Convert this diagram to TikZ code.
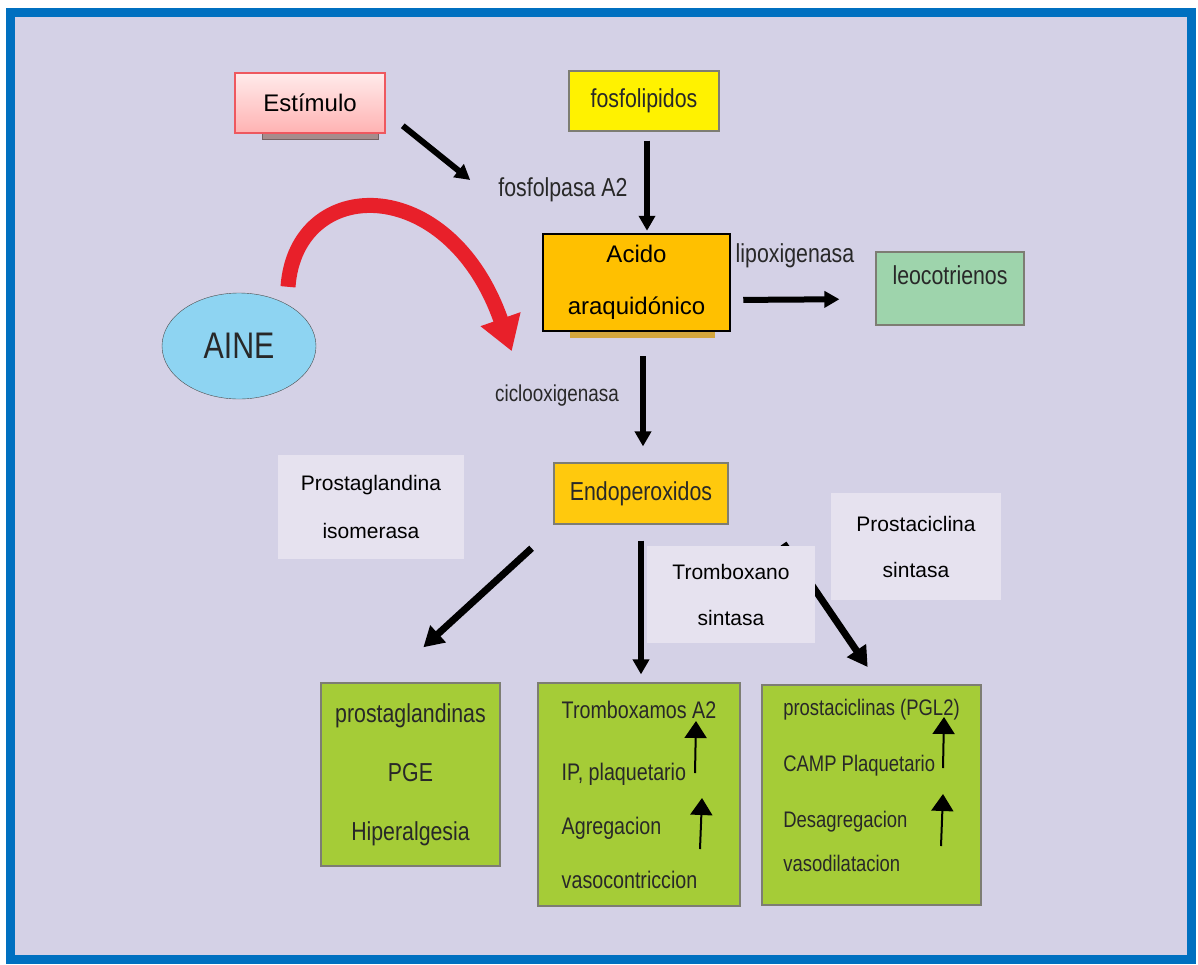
\documentclass[tikz,border=0pt]{standalone}
\usepackage{fontspec}
\setmainfont{Liberation Sans}
\newfontfamily\estrecha[FakeStretch=0.82]{Liberation Sans}
\usetikzlibrary{shapes.geometric,arrows.meta}

\definecolor{fondo}{RGB}{212,209,230}
\definecolor{marco}{RGB}{0,112,192}
\definecolor{etiq}{RGB}{230,226,239}
\definecolor{verde}{RGB}{165,204,55}
\definecolor{verdeleo}{RGB}{158,212,172}
\definecolor{amarillo}{RGB}{255,242,0}
\definecolor{naranja}{RGB}{255,192,0}
\definecolor{endoc}{RGB}{255,201,13}
\definecolor{celeste}{RGB}{142,212,242}
\definecolor{rojo}{RGB}{232,32,42}
\definecolor{gristxt}{RGB}{40,40,40}
\definecolor{borde}{RGB}{125,125,115}
\definecolor{sombra}{RGB}{165,140,140}
\definecolor{sombraac}{RGB}{210,165,60}

\tikzset{
    caja/.style={draw=borde, line width=1.2pt, inner sep=0pt},
    enzima/.style={fill=etiq, inner sep=0pt, align=center},
    verdecaja/.style={caja, fill=verde, text=gristxt, inner sep=0pt},
    etq/.style={inner sep=0pt, text=gristxt},
    flecha/.style={line width=6pt, -{Triangle[width=16pt,length=15pt]}},
    flechag/.style={line width=7pt, -{Triangle[width=22pt,length=20pt]}},
    sube/.style={line width=2pt, -{Triangle[width=22pt,length=17pt]}},
}

\begin{document}
\begin{tikzpicture}[x=1pt, y=-1pt]
    \fill[white] (0,0) rectangle (1198,964);
    \useasboundingbox (0,0) rectangle (1198,964);
    \draw[marco, line width=9pt, fill=fondo] (10.5,12.5) rectangle (1191.5,959.5);

    \node[fill=sombra, draw=sombra!70!black, minimum width=116pt, minimum height=67pt] (estsombra) at (320,105.5) {};
    \node[draw=rojo!75, line width=1.5pt, top color=red!8, bottom color=red!30, minimum width=150pt, minimum height=60pt,
        font=\fontsize{24}{28}\selectfont] (estimulo) at (310,103) {Estímulo};
    \node[caja, fill=amarillo, minimum width=150pt, minimum height=60pt, text=gristxt,
        font=\estrecha\fontsize{26}{30}\selectfont] (fosfo) at (644,101) {fosfolipidos};
    \node[etq, font=\estrecha\fontsize{26}{30}\selectfont] (fla2) at (563,190) {fosfolpasa A2};

    \node[fill=sombraac, minimum width=145pt, minimum height=98pt] (acsombra) at (642.5,289) {};
    \node[fill=naranja, draw=black, line width=2.5pt, minimum width=187pt, minimum height=97pt, align=center,
        font=\fontsize{24}{52}\selectfont] (acido) at (636.5,282.5) {Acido\\araquidónico};
    \node[etq, font=\estrecha\fontsize{26}{30}\selectfont] (lipo) at (795,256) {lipoxigenasa};
    \node[caja, fill=verdeleo, minimum width=148pt, minimum height=73pt, text=gristxt, text height=19pt, text depth=27pt,
        font=\estrecha\fontsize{26}{30}\selectfont] (leo) at (950,288.5) {leocotrienos};

    \node[ellipse, draw=black!70, fill=celeste, minimum width=154pt, minimum height=106pt, inner sep=0pt, text=gristxt,
        font=\estrecha\fontsize{37}{40}\selectfont] (aine) at (239,346) {AINE};
    \node[etq, font=\estrecha\fontsize{23}{28}\selectfont] (cox) at (557,396) {ciclooxigenasa};

    \node[caja, fill=endoc, minimum width=174pt, minimum height=61pt, text=gristxt,
        font=\estrecha\fontsize{26}{30}\selectfont] (endo) at (641,493.5) {Endoperoxidos};

    \node[enzima, minimum width=186pt, minimum height=104pt, font=\fontsize{21}{48}\selectfont] (pgis) at (371,507) {Prostaglandina\\isomerasa};
    \node[enzima, minimum width=170pt, minimum height=107pt, font=\fontsize{21}{46}\selectfont] (pcs) at (916,546.5) {Prostaciclina\\sintasa};

    \node[verdecaja, minimum width=179pt, minimum height=183pt, align=center,
        font=\estrecha\fontsize{26}{59}\selectfont] (pg) at (410.5,774.5) {prostaglandinas\\PGE\\Hiperalgesia};
    \node[verdecaja, minimum width=202pt, minimum height=223pt, align=left, text depth=-6pt,
        font=\estrecha\fontsize{24}{54}\selectfont] (tx) at (639,794.5) {Tromboxamos A2\\[8pt]IP, plaquetario\\Agregacion\\vasocontriccion};
    \node[verdecaja, minimum width=219pt, minimum height=220pt, align=left, text depth=20pt,
        font=\estrecha\fontsize{22.5}{56}\selectfont] (pc) at (871.5,795) {prostaciclinas (PGL2)\\CAMP Plaquetario\\Desagregacion\\[-12pt]vasodilatacion};

    \draw[flecha] ([xshift=17pt,yshift=8pt]estimulo.south east) -- ([xshift=-28pt,yshift=10pt]fla2.west);
    \draw[flecha, shorten <=9pt, shorten >=2pt] ([xshift=3pt]fosfo.south) -- ([xshift=10.5pt]acido.north);
    \draw[flecha, shorten <=12pt, shorten >=36pt] ([yshift=-17.5pt]acido.east) -- ([yshift=-10.5pt]leo.west);
    \draw[flecha, shorten <=24pt, shorten >=16pt] ([xshift=6.5pt]acido.south) -- ([xshift=2pt]endo.north);
    %INHIBE
    \draw[rojo, line width=15pt, -{Triangle[width=40pt,length=34pt]}] ([shift={(49pt,6pt)}]aine.north)
        .. controls +(8,-112) and +(-63,-180) .. ([xshift=-30pt,yshift=-19pt]acido.south west);

    \draw[flechag, shorten <=35pt, shorten >=52pt] ([xshift=4pt]endo.south west) -- ([xshift=-25.5pt]pg.north);
    \draw[flecha, shorten <=16pt, shorten >=8pt] (endo.south) -- ([xshift=2pt]tx.north);
    \draw[flechag, shorten <=23pt, shorten >=21pt] ([xshift=42pt]endo.south east) -- ([xshift=8pt]pc.north);
    \node[enzima, minimum width=168pt, minimum height=97pt, font=\fontsize{21}{46}\selectfont] (txs) at (731,594.5) {Tromboxano\\sintasa};

    \coordinate (s1) at (695,773);
    \coordinate (s2) at (696,721);
    \coordinate (s3) at (700,849);
    \coordinate (s4) at (702,798);
    \coordinate (s5) at (943,768);
    \coordinate (s6) at (944,717);
    \coordinate (s7) at (941,846);
    \coordinate (s8) at (943,794);
    \draw[sube] (s1) -- (s2);
    \draw[sube] (s3) -- (s4);
    \draw[sube] (s5) -- (s6);
    \draw[sube] (s7) -- (s8);
\end{tikzpicture}
\end{document}
